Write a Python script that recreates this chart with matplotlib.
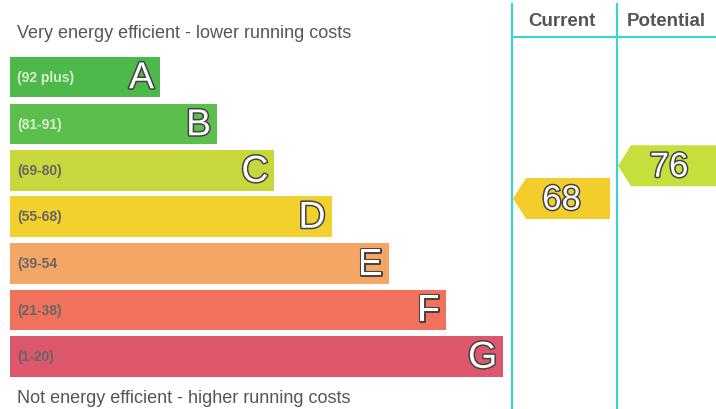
import matplotlib
matplotlib.use("Agg")
import matplotlib.pyplot as plt
import matplotlib.patheffects as pe
from matplotlib.patches import Polygon, Rectangle
import numpy as np

# ---- data ----
bands = ["A", "B", "C", "D", "E", "F", "G"]
ranges = ["(92 plus)", "(81-91)", "(69-80)", "(55-68)", "(39-54", "(21-38)", "(1-20)"]
band_low = [92, 81, 69, 55, 39, 21, 1]
band_high = [100, 91, 80, 68, 54, 38, 20]
band_colors = ["#4cb94a", "#5cbe4c", "#c8d83c", "#f2d12e", "#f4a764", "#f1725c", "#dc566c"]
current_rating = 68
potential_rating = 76
current_color = "#f2cd2c"
potential_color = "#c6df3c"
top_text = "Very energy efficient - lower running costs"
bottom_text = "Not energy efficient - higher running costs"
col_headers = ["Current", "Potential"]

# ---- layout (pixels) ----
W, H = 716, 410
fig = plt.figure(figsize=(W / 100, H / 100), dpi=100)
ax = fig.add_axes([0, 0, 1, 1])
ax.set_xlim(0, W)
ax.set_ylim(H, 0)
ax.axis("off")

FONT = "Liberation Sans"
TXT = "#57535c"
bar_left = 10
row_tops = [57.5, 104.5, 151, 197, 244, 290.5, 337]
row_h = 40.5
bar_rights = [160 + i * 57.2 for i in range(len(bands))]

outline = [pe.withStroke(linewidth=2.2, foreground="#444444")]

for i, b in enumerate(bands):
    ax.add_patch(Rectangle((bar_left, row_tops[i]), bar_rights[i] - bar_left, row_h,
                           facecolor=band_colors[i], edgecolor="none"))
    ax.text(bar_rights[i] - 6, row_tops[i] + row_h / 2 + 1.5, b, ha="right", va="center",
            fontsize=27, color="white", family=FONT, path_effects=outline)
    lc = "#d8f0d0" if i < 2 else "#666666"
    ax.text(bar_left + 7, row_tops[i] + row_h / 2, ranges[i], ha="left", va="center",
            fontsize=10, fontweight="bold", color=lc, family=FONT)

ax.text(17, 33, top_text, ha="left", va="center", fontsize=13, color=TXT, family=FONT)
ax.text(17, 399, bottom_text, ha="left", va="center", fontsize=13, color=TXT, family=FONT)

# column lines
cx0, cx1 = 512, 617
line_c = "#3fd0cf"
ax.plot([cx0, cx0], [5, H], color=line_c, lw=1.6)
ax.plot([cx1, cx1], [5, H], color=line_c, lw=1.6)
ax.plot([cx0, W], [38, 38], color=line_c, lw=1.6)
ax.text(562, 22, col_headers[0], ha="center", va="center", fontsize=13.5,
        fontweight="bold", color=TXT, family=FONT)
ax.text(666, 22, col_headers[1], ha="center", va="center", fontsize=13.5,
        fontweight="bold", color=TXT, family=FONT)

# rating -> y position (continuous within band rows)
def rating_y(r):
    for i in range(len(bands)):
        if band_low[i] <= r <= band_high[i]:
            top, bot = row_tops[i], row_tops[i] + row_h
            span = max(band_high[i] - band_low[i], 1)
            frac = (r - band_low[i]) / span
            return bot - frac * row_h
    return row_tops[-1]

def arrow(x0, x1, yc, color, label):
    h = 41
    pts = [(x0, yc), (x0 + 13, yc - h / 2), (x1, yc - h / 2), (x1, yc + h / 2), (x0 + 13, yc + h / 2)]
    ax.add_patch(Polygon(pts, closed=True, facecolor=color, edgecolor="none"))
    ax.text((x0 + x1) / 2, yc + 1.5, label, ha="center", va="center", fontsize=25,
            color="white", family=FONT, path_effects=outline)

yc_cur = rating_y(current_rating) + 2.5
yc_pot = rating_y(potential_rating) + 1
arrow(cx0 + 1, 610, yc_cur, current_color, str(current_rating))
arrow(cx1 + 1, W + 4, yc_pot, potential_color, str(potential_rating))

fig.savefig("out.png", dpi=100)
